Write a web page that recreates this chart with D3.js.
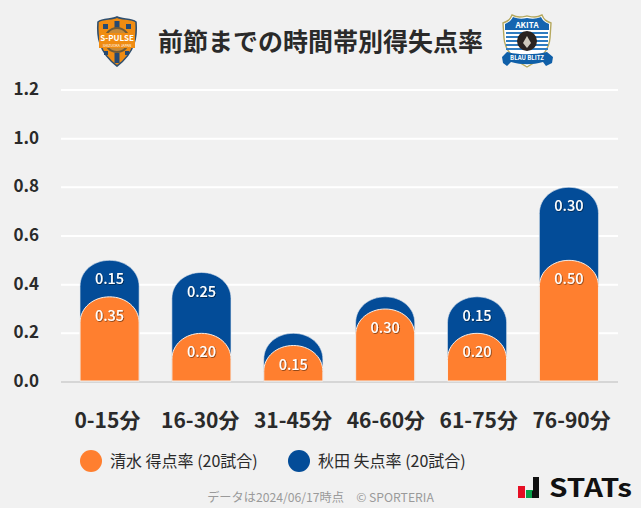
<!DOCTYPE html>
<html><head><meta charset="utf-8">
<script src="https://cdn.jsdelivr.net/npm/d3@7/dist/d3.min.js"></script>
<style>
html,body{margin:0;padding:0;background:#f1f1f1;overflow:hidden}
text{font-family:"Noto Sans CJK JP","Noto Sans",sans-serif}
</style></head><body><svg id="c" width="641" height="508"></svg>
<script>
const categories=["0-15分","16-30分","31-45分","46-60分","61-75分","76-90分"];
const shimizu=[0.35,0.20,0.15,0.30,0.20,0.50];
const akita=[0.15,0.25,0.05,0.05,0.15,0.30];
const akitaLabels=["0.15","0.25","","","0.15","0.30"];
const yTicks=[0,0.2,0.4,0.6,0.8,1.0,1.2];
const title="前節までの時間帯別得失点率";
const legendNames=["清水 得点率 (20試合)","秋田 失点率 (20試合)"];
const footnote="データは2024/06/17時点　© SPORTERIA";
const ORANGE="#ff7f2f",BLUE="#034c98",INK="#2a2a2a";

const svg=d3.select("#c");
svg.append("rect").attr("width",641).attr("height",508).attr("fill","#f1f1f1");
const y=d3.scaleLinear().domain([0,1.2]).range([382,90]);
const x=d3.scaleBand().domain(categories).range([63.5,615]).paddingInner(0.357).paddingOuter(0.18);
const xLabel=d3.scaleBand().domain(categories).range([61,618]);
const defs=svg.append("defs");
const f=defs.append("filter").attr("id","sh").attr("x","-20%").attr("y","-20%").attr("width","140%").attr("height","140%");
f.append("feDropShadow").attr("dx",0.7).attr("dy",0.7).attr("stdDeviation",0.5).attr("flood-color","#000").attr("flood-opacity",0.6);

// grid
svg.append("g").selectAll("line").data(yTicks).join("line")
 .attr("x1",61).attr("x2",618).attr("y1",d=>y(d)).attr("y2",d=>y(d))
 .attr("stroke",d=>d===0?"#d6d6d6":"#fff").attr("stroke-width",2);
svg.append("g").selectAll("text").data(yTicks).join("text")
 .attr("x",39).attr("y",d=>y(d)+5).attr("text-anchor","end")
 .attr("font-size",17).attr("font-weight",700).attr("fill",INK).text(d=>d.toFixed(1));

function barPath(cx,w,top,bottom){
  const r=w/2, ry=Math.min(26,bottom-top), l=cx-r, rr=cx+r;
  return `M${l},${bottom}V${top+ry}C${l},${top+ry*0.42} ${cx-r*0.55},${top} ${cx},${top}C${cx+r*0.55},${top} ${rr},${top+ry*0.42} ${rr},${top+ry}V${bottom}Z`;
}
const cx=c=>x(c)+x.bandwidth()/2;
const W=x.bandwidth();
const g=svg.append("g");
g.selectAll("path.b").data(categories).join("path").attr("class","b")
 .attr("d",(c,i)=>barPath(cx(c),W,y(shimizu[i]+akita[i]),y(0)-1))
 .attr("fill",BLUE).attr("stroke","#dfe6ee").attr("stroke-width",0.6);
g.selectAll("path.o").data(categories).join("path").attr("class","o")
 .attr("d",(c,i)=>barPath(cx(c),W,y(shimizu[i]),y(0)-1))
 .attr("fill",ORANGE).attr("stroke","#f6eee8").attr("stroke-width",1);
const lab=svg.append("g").attr("font-size",14.5).attr("font-weight",500).attr("fill","#fff").attr("text-anchor","middle").attr("filter","url(#sh)");
lab.selectAll("text.o").data(categories).join("text").attr("class","o")
 .attr("x",cx).attr("y",(c,i)=>y(shimizu[i])+24).text((c,i)=>shimizu[i].toFixed(2));
lab.selectAll("text.b").data(categories).join("text").attr("class","b")
 .attr("x",cx).attr("y",(c,i)=>y(shimizu[i]+akita[i])+24).text((c,i)=>akitaLabels[i]);

// x labels
svg.append("g").selectAll("text").data(categories).join("text")
 .attr("x",c=>xLabel(c)+xLabel.bandwidth()/2).attr("y",428).attr("text-anchor","middle")
 .attr("font-size",21).attr("font-weight",700).attr("fill",INK).text(d=>d);

// title
svg.append("text").attr("x",320.5).attr("y",51).attr("text-anchor","middle")
 .attr("font-size",25).attr("font-weight",700).attr("fill",INK).text(title);

// legend
[[91,ORANGE,110],[299,BLUE,318]].forEach((l,i)=>{
  svg.append("circle").attr("cx",l[0]).attr("cy",461).attr("r",11).attr("fill",l[1]);
  svg.append("text").attr("x",l[2]).attr("y",467).attr("font-size",16).attr("fill",INK).text(legendNames[i]);
});
svg.append("text").attr("x",320.5).attr("y",502).attr("text-anchor","middle").attr("font-size",12.2).attr("fill","#9a9a9a").text(footnote);

// STATs logo
const s=svg.append("g");
s.append("rect").attr("x",518).attr("y",486).attr("width",7).attr("height",12).attr("fill","#e60f24");
s.append("rect").attr("x",526).attr("y",490).attr("width",7).attr("height",8).attr("fill","#0aa04a");
s.append("path").attr("d","M532,491 H533 V477 H539 V498 H532Z").attr("fill","#111");
s.append("text").attr("x",549).attr("y",497).attr("font-family","Inter,'DejaVu Sans',sans-serif").attr("font-size",25).attr("font-weight",700).attr("fill","#111").attr("textLength",83).attr("lengthAdjust","spacingAndGlyphs").text("STATs");

// S-Pulse crest
const p=svg.append("g");
const shield="M117,17 C112,20 103,18 98,22 C97,35 98,52 117,66 C136,52 137,35 136,22 C131,18 122,20 117,17Z";
p.append("path").attr("d",shield).attr("fill","#f08c12").attr("stroke","#2f4f6f").attr("stroke-width",1.6);
p.append("rect").attr("x",114.5).attr("y",53).attr("width",5).attr("height",10).attr("fill","#264a73");
p.append("rect").attr("x",114.5).attr("y",21).attr("width",5).attr("height",7).attr("fill","#264a73");
[[103,24],[126,24]].forEach(o=>p.append("rect").attr("x",o[0]).attr("y",o[1]).attr("width",5).attr("height",5).attr("fill","#264a73"));
[[104,51],[125,51]].forEach(o=>p.append("rect").attr("x",o[0]).attr("y",o[1]).attr("width",4).attr("height",4).attr("fill","#264a73"));
p.append("circle").attr("cx",117).attr("cy",40).attr("r",12).attr("fill","#c98a35").attr("stroke","#6d5a3a").attr("stroke-width",2);
p.append("rect").attr("x",99).attr("y",33).attr("width",36).attr("height",15).attr("fill","#f08c12");
p.append("text").attr("x",117).attr("y",41).attr("text-anchor","middle").attr("font-size",8).attr("font-weight",700).attr("fill","#fff").text("S-PULSE");
p.append("text").attr("x",117).attr("y",46.5).attr("text-anchor","middle").attr("font-size",3.5).attr("fill","#fff").text("SHIZUOKA JAPAN");

// Akita crest
const a=svg.append("g");
const ashield="M527,67 C516,61 505,52 504,38 L503,23 C508,21 510,20 512,15 C518,18 522,17 527,16 C532,17 536,18 542,15 C544,20 546,21 551,23 L550,38 C549,52 538,61 527,67Z";
a.append("path").attr("d",ashield).attr("fill","#fff").attr("stroke","#b5a85e").attr("stroke-width",1.4);
a.append("path").attr("d","M505,30 V24 C509,22 511,21 513,17 C518,19 522,19 527,18 C532,19 536,19 541,17 C543,21 545,22 549,24 V30Z").attr("fill","#1565b0");
[32,36,40,44,48].forEach(v=>a.append("rect").attr("x",506).attr("y",v).attr("width",42).attr("height",2).attr("fill","#2f7cc0"));
a.append("circle").attr("cx",527).attr("cy",41).attr("r",10).attr("fill","#2a2320");
a.append("path").attr("d","M527,36 L531,43 L527,48 L523,43Z").attr("fill","#cfc9bd");
a.append("text").attr("x",527).attr("y",28).attr("text-anchor","middle").attr("font-size",8).attr("font-weight",700).attr("fill","#fff").text("AKITA");
a.append("path").attr("d","M502,57 L507,52 C520,55 534,55 547,52 L553,57 L552,63 L546,66 L543,62 C532,65 522,65 511,62 L507,66 L503,63Z").attr("fill","#0f5fa8");
a.append("text").attr("x",527).attr("y",60).attr("text-anchor","middle").attr("font-size",6).attr("font-weight",700).attr("fill","#fff").text("BLAU BLITZ");
</script></body></html>
